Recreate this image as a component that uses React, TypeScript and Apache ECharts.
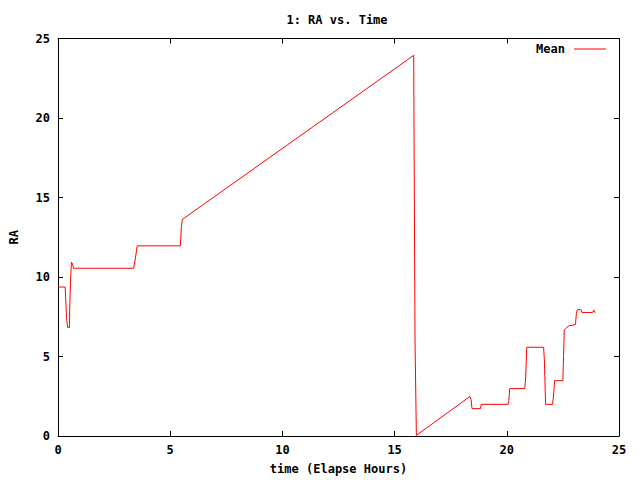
import React, { useEffect, useRef } from "react";
import * as echarts from "echarts";

const titleText = "1: RA vs. Time";
const seriesName = "Mean";
const xTicks = [0, 5, 10, 15, 20, 25];
const yTicks = [0, 5, 10, 15, 20, 25];

const times = [
  0, 0.32, 0.34, 0.38, 0.43, 0.51, 0.52, 0.56, 0.6, 0.65, 0.69,
  3.37, 3.45, 3.53, 5.45, 5.5, 5.54,
  15.85, 15.87, 15.91, 15.97,
  18.36, 18.41, 18.45, 18.83, 18.86,
  20.06, 20.09, 20.13, 20.8, 20.84, 20.89,
  21.64, 21.68, 21.71, 21.73, 22.04, 22.08, 22.13,
  22.5, 22.53, 22.56, 22.63, 22.78, 23.06, 23.1, 23.14,
  23.31, 23.35, 23.83, 23.87, 23.94,
];
const ra = [
  9.37, 9.37, 8.71, 7.46, 6.82, 6.82, 7.88, 9.89, 10.93, 10.82, 10.55,
  10.55, 11.19, 11.96, 11.96, 13.17, 13.62,
  23.94, 18.03, 6.05, 0.04,
  2.49, 2.28, 1.72, 1.72, 1.99,
  1.99, 2.24, 2.98, 2.98, 3.65, 5.58,
  5.58, 4.65, 2.84, 1.99, 1.99, 2.51, 3.48,
  3.48, 5.06, 6.67, 6.77, 6.94, 7.0, 7.71, 7.94,
  7.94, 7.77, 7.77, 7.92, 7.75,
];

const FONT = "'DejaVu Sans Mono', monospace";

export default function App() {
  const ref = useRef<HTMLDivElement>(null);
  useEffect(() => {
    if (!ref.current) return;
    const chart = echarts.init(ref.current, null, { renderer: "svg" });
    const data = times.map((t, i) => [t, ra[i]]);
    const axisCommon = {
      type: "value" as const,
      min: 0,
      max: 25,
      interval: 5,
      splitLine: { show: false },
      axisLine: { show: true, onZero: false, lineStyle: { color: "#000", width: 1 } },
      axisTick: { show: true, inside: true, length: 5, lineStyle: { color: "#000", width: 1 } },
    };
    chart.setOption({
      animation: false,
      backgroundColor: "#fff",
      title: {
        text: titleText,
        left: 337,
        top: 14,
        padding: 0,
        textAlign: "center",
        textStyle: { fontFamily: FONT, fontSize: 12, fontWeight: "bold", color: "#000" },
      },
      legend: {
        data: [{ name: seriesName, icon: "rect" }],
        right: 34,
        top: 43,
        padding: 0,
        align: "right",
        itemWidth: 32,
        itemHeight: 1,
        textStyle: { fontFamily: FONT, fontSize: 12, fontWeight: "bold", color: "#000", padding: [0, 4, 0, 0] },
      },
      grid: { left: 54.5, right: 21, top: 38.5, bottom: 40, containLabel: false },
      xAxis: [
        {
          ...axisCommon,
          position: "bottom",
          name: "time (Elapse Hours)",
          nameLocation: "middle",
          nameGap: 27,
          nameTextStyle: { fontFamily: FONT, fontSize: 12, fontWeight: "bold", color: "#000" },
          axisLabel: {
            margin: 8,
            fontFamily: FONT,
            fontSize: 12,
            fontWeight: "bold",
            color: "#000",
            formatter: (v: number) => (xTicks.includes(v) ? String(v) : ""),
          },
        },
        { ...axisCommon, position: "top", axisLabel: { show: false } },
      ],
      yAxis: [
        {
          ...axisCommon,
          position: "left",
          name: "RA",
          nameLocation: "middle",
          nameRotate: 90,
          nameGap: 38,
          nameTextStyle: { fontFamily: FONT, fontSize: 12, fontWeight: "bold", color: "#000" },
          axisLabel: {
            margin: 8,
            fontFamily: FONT,
            fontSize: 12,
            fontWeight: "bold",
            color: "#000",
            formatter: (v: number) => (yTicks.includes(v) ? String(v) : ""),
          },
        },
        { ...axisCommon, position: "right", axisLabel: { show: false } },
      ],
      series: [
        {
          name: seriesName,
          type: "line",
          xAxisIndex: 0,
          yAxisIndex: 0,
          data,
          symbol: "none",
          color: "#ff0000",
          lineStyle: { color: "#ff0000", width: 1 },
        },
      ],
    });
    return () => chart.dispose();
  }, []);
  return (
    <div
      ref={ref}
      style={{ position: "fixed", left: 0, top: 0, width: 640, height: 480, background: "#fff" }}
    />
  );
}
